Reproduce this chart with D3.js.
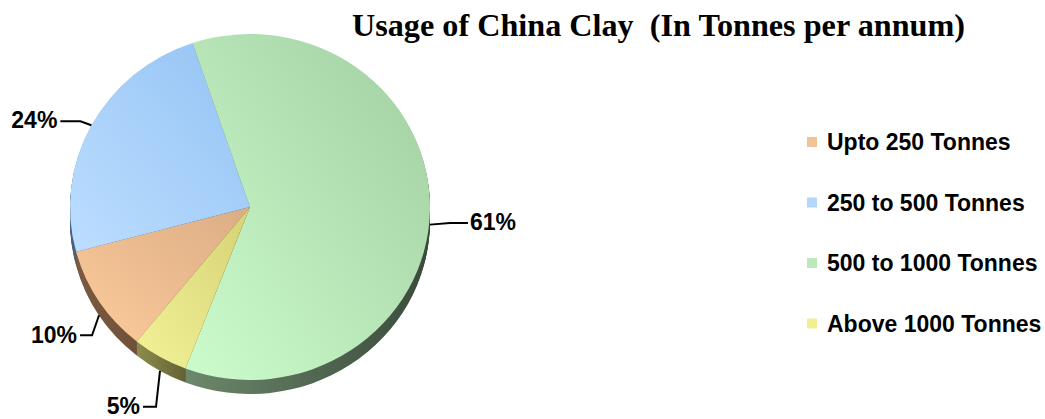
<!DOCTYPE html>
<html>
<head>
<meta charset="utf-8">
<script src="https://cdn.jsdelivr.net/npm/d3@7"></script>
<style>
  html, body { margin: 0; padding: 0; background: #ffffff; }
  svg { display: block; }
</style>
</head>
<body>
<svg id="chart" width="1045" height="419"></svg>
<script>
// ---- data ----
const titleText = "Usage of China Clay  (In Tonnes per annum)";
const categories = ["Upto 250 Tonnes", "250 to 500 Tonnes", "500 to 1000 Tonnes", "Above 1000 Tonnes"];
const values = [10, 24, 61, 5];
const pctLabels = ["10%", "24%", "61%", "5%"];

// ---- styles ----
const topLight = ["#fccc9c", "#bcdeff", "#ccfccc", "#f2f296"];
const topDark  = ["#dcac84", "#94c2f4", "#a2cea2", "#d6d276"];
const sideLight = ["#7a5a40", "#4a6080", "#6c886c", "#8c8c4c"];
const sideDark  = ["#5a4030", "#2e3e50", "#3a4a3a", "#2e2a18"];
const legendColors = ["#f0c496", "#b2d6fc", "#bce8bc", "#f0f092"];

// layout for leader lines: two points relative to anchor, and text offset relative to last point
const leaderLayout = [
  { pts: [[-7, 20], [-19, 20]], text: [-3, 8], anchor: "end" },
  { pts: [[-11, -4], [-31, -4]], text: [-3, 7], anchor: "end" },
  { pts: [[20, -1.5], [38, -1.5]], text: [2, 7], anchor: "start" },
  { pts: [[-4, 36], [-17, 36]], text: [-3, 7], anchor: "end" }
];

const svg = d3.select("#chart");
const cx = 250, cy = 207, rx = 180, ry = 173, depth = 14;
const sy = ry / rx;

const defs = svg.append("defs");
values.forEach((v, i) => {
  const g = defs.append("linearGradient").attr("id", "top" + i)
    .attr("x1", 0).attr("y1", 1).attr("x2", 1).attr("y2", 0);
  g.append("stop").attr("offset", 0).attr("stop-color", topLight[i]);
  g.append("stop").attr("offset", 1).attr("stop-color", topDark[i]);
  const s = defs.append("linearGradient").attr("id", "side" + i)
    .attr("x1", 0).attr("y1", 0).attr("x2", 1).attr("y2", 0);
  s.append("stop").attr("offset", 0).attr("stop-color", sideLight[i]);
  s.append("stop").attr("offset", 1).attr("stop-color", sideDark[i]);
});

const start = 219 * Math.PI / 180;
const pie = d3.pie().sort(null).value(d => d).startAngle(start).endAngle(start + 2 * Math.PI);
const arcs = pie(values);
const arc = d3.arc().innerRadius(0).outerRadius(rx);

// side (depth) layers
const sideG = svg.append("g");
for (let k = depth; k >= 1; k--) {
  const layer = sideG.append("g").attr("transform", `translate(${cx},${cy + k}) scale(1,${sy})`);
  layer.selectAll("path").data(arcs).enter().append("path")
    .attr("d", arc)
    .attr("fill", (d, i) => `url(#side${i})`);
}

// top face
const topG = svg.append("g").attr("transform", `translate(${cx},${cy}) scale(1,${sy})`);
topG.selectAll("path").data(arcs).enter().append("path")
  .attr("d", arc)
  .attr("fill", (d, i) => `url(#top${i})`);

// leader lines & labels
arcs.forEach((d, i) => {
  const a = (d.startAngle + d.endAngle) / 2;
  const ax = cx + rx * Math.sin(a);
  const ay = cy - ry * Math.cos(a) + (Math.cos(a) < 0 ? depth : 0);
  const L = leaderLayout[i];
  const pts = [[ax, ay]].concat(L.pts.map(p => [ax + p[0], ay + p[1]]));
  svg.append("path")
    .attr("d", d3.line()(pts))
    .attr("fill", "none").attr("stroke", "#000").attr("stroke-width", 2);
  const last = pts[pts.length - 1];
  svg.append("text")
    .attr("x", last[0] + L.text[0]).attr("y", last[1] + L.text[1])
    .attr("text-anchor", L.anchor)
    .attr("font-family", "'Liberation Sans', Arial, sans-serif")
    .attr("font-weight", "bold").attr("font-size", 23)
    .attr("fill", "#000")
    .text(pctLabels[i]);
});

// title
svg.append("text")
  .attr("x", 352).attr("y", 36)
  .style("white-space", "pre")
  .attr("font-family", "'Liberation Serif', 'Times New Roman', serif")
  .attr("font-weight", "bold").attr("font-size", 31)
  .attr("textLength", 613).attr("lengthAdjust", "spacingAndGlyphs")
  .attr("fill", "#000")
  .text(titleText);

// legend
const ly = d3.scalePoint().domain(categories).range([150, 331.5]);
const leg = svg.append("g");
categories.forEach((c, i) => {
  leg.append("rect").attr("x", 807).attr("y", ly(c) - 13).attr("width", 10).attr("height", 10)
    .attr("fill", legendColors[i]);
  leg.append("text").attr("x", 827).attr("y", ly(c))
    .attr("font-family", "'Liberation Sans', Arial, sans-serif")
    .attr("font-weight", "bold").attr("font-size", 23)
    .attr("fill", "#000")
    .text(c);
});
</script>
</body>
</html>
